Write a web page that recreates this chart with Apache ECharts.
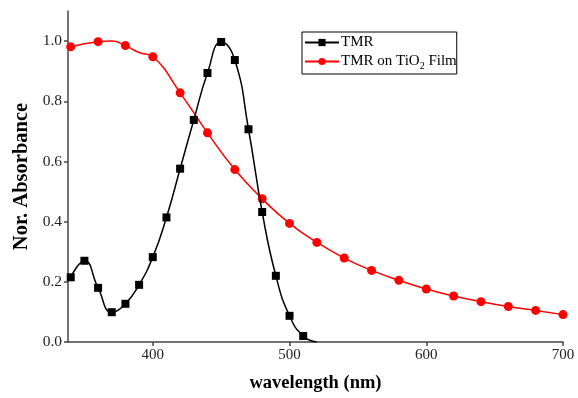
<!DOCTYPE html>
<html>
<head>
<meta charset="utf-8">
<title>Nor. Absorbance</title>
<script src="https://cdn.jsdelivr.net/npm/echarts@6/dist/echarts.min.js"></script>
<style>
  html, body { margin: 0; padding: 0; background: #fff; }
  #chart { width: 578px; height: 398px; }
</style>
</head>
<body>
<div id="chart"></div>
<script>
// TMR in solution, every 10 nm (last point has no marker)
var tmrX = [340, 350, 360, 370, 380, 390, 400, 410, 420, 430, 440, 450, 460, 470, 480, 490, 500, 510, 520];
var tmrY = [0.215, 0.27, 0.18, 0.099, 0.127, 0.19, 0.282, 0.414, 0.576, 0.738, 0.894, 0.997, 0.937, 0.707, 0.432, 0.22, 0.087, 0.02, 0.0];
var tmrMark = [1, 1, 1, 1, 1, 1, 1, 1, 1, 1, 1, 1, 1, 1, 1, 1, 1, 1, 0];

// TMR on TiO2 film, markers every 20 nm
var filmX = [340, 360, 370, 380, 390, 400, 420, 440, 460, 480, 500, 520, 540, 560, 580, 600, 620, 640, 660, 680, 700];
var filmY = [0.981, 0.998, 1.0, 0.985, 0.962, 0.948, 0.828, 0.695, 0.573, 0.476, 0.394, 0.331, 0.279, 0.238, 0.205, 0.176, 0.153, 0.134, 0.118, 0.105, 0.091];
var filmMark = [1, 1, 0, 1, 0, 1, 1, 1, 1, 1, 1, 1, 1, 1, 1, 1, 1, 1, 1, 1, 1];

var xTicks = [400, 500, 600, 700];
var yTicks = [0, 0.2, 0.4, 0.6, 0.8, 1.0];

var seriesNames = ['TMR', 'TMR on TiO2 Film'];

function build(xs, ys, marks) {
    return xs.map(function (x, i) {
        var item = { value: [x, ys[i]] };
        if (!marks[i]) item.symbol = 'none';
        return item;
    });
}

var font = '"Liberation Serif", "Times New Roman", serif';

var myChart = echarts.init(document.getElementById('chart'));
var option = {
    backgroundColor: '#fff',
    animation: false,
    textStyle: { fontFamily: font },
    grid: { left: 68, right: 15, top: 11, bottom: 55 },
    legend: {
        orient: 'vertical',
        left: 302,
        top: 32,
        padding: [3, 0, 3, 2],
        itemGap: 4,
        itemWidth: 34,
        itemHeight: 9,
        borderColor: '#000',
        borderWidth: 1,
        borderRadius: 0,
        data: seriesNames,
        formatter: function (name) {
            return name === 'TMR on TiO2 Film' ? 'TMR on TiO{sub|2} Film' : name;
        },
        textStyle: {
            fontFamily: font,
            fontSize: 15,
            color: '#000',
            padding: [0, 0, 0, -3],
            rich: {
                sub: { fontFamily: font, fontSize: 10, color: '#000', padding: [9, 0, 0, 0] }
            }
        }
    },
    xAxis: {
        type: 'value',
        min: 338,
        max: 700,
        name: 'wavelength (nm)',
        nameLocation: 'middle',
        nameGap: 32,
        nameTextStyle: { fontFamily: font, fontSize: 18.5, fontWeight: 'bold', color: '#000' },
        splitLine: { show: false },
        axisLine: { lineStyle: { color: '#444', width: 1.5 } },
        axisTick: { length: 4, customValues: xTicks, lineStyle: { color: '#444', width: 1.5 } },
        axisLabel: {
            customValues: xTicks,
            fontFamily: font, fontSize: 15, color: '#222', margin: 6
        }
    },
    yAxis: {
        type: 'value',
        min: 0,
        max: 1.1,
        name: 'Nor. Absorbance',
        nameLocation: 'middle',
        nameGap: 36,
        nameTextStyle: { fontFamily: font, fontSize: 20.5, fontWeight: 'bold', color: '#000' },
        splitLine: { show: false },
        axisLine: { show: true, lineStyle: { color: '#444', width: 1.5 } },
        axisTick: { show: true, length: 4, customValues: yTicks, lineStyle: { color: '#444', width: 1.5 } },
        axisLabel: {
            customValues: yTicks,
            fontFamily: font, fontSize: 15.5, color: '#222', margin: 6,
            formatter: function (v) { return v.toFixed(1); }
        }
    },
    series: [
        {
            name: seriesNames[0],
            type: 'line',
            smooth: 0.5,
            symbol: 'rect',
            symbolSize: 8,
            color: '#000',
            lineStyle: { color: '#000', width: 1.5 },
            itemStyle: { color: '#000' },
            data: build(tmrX, tmrY, tmrMark),
            z: 3
        },
        {
            name: seriesNames[1],
            type: 'line',
            smooth: 0.5,
            symbol: 'circle',
            symbolSize: 9,
            color: '#ff0000',
            lineStyle: { color: '#ff0000', width: 1.5 },
            itemStyle: { color: '#ff0000' },
            data: build(filmX, filmY, filmMark),
            z: 2
        }
    ]
};
myChart.setOption(option);
</script>
</body>
</html>
